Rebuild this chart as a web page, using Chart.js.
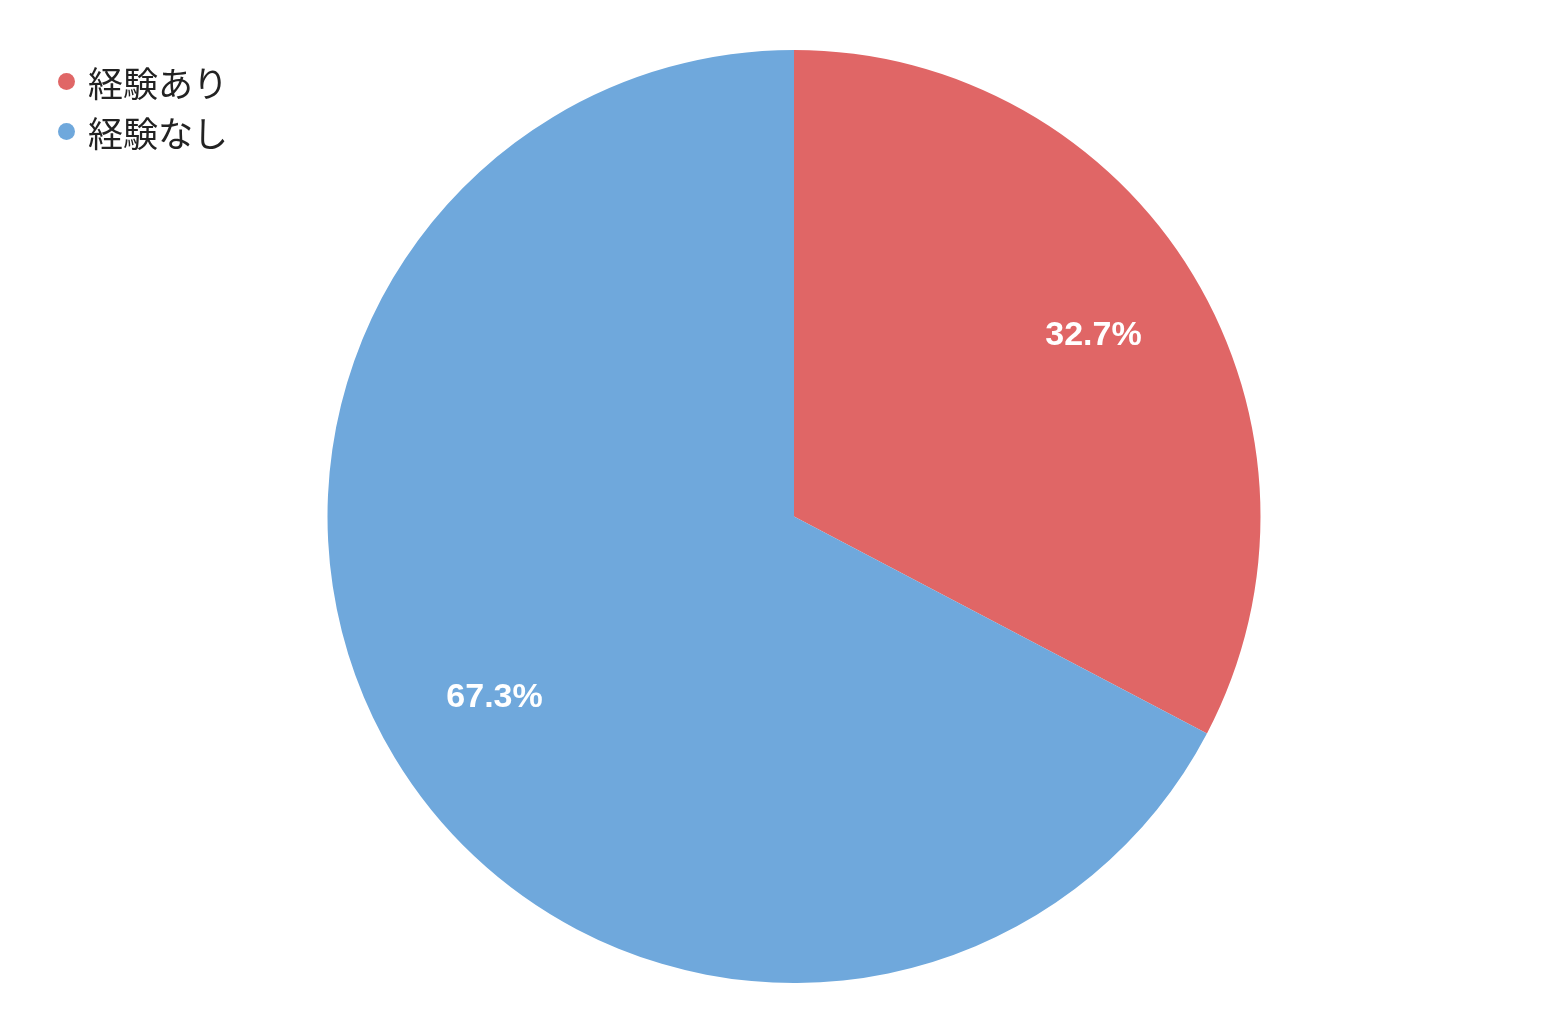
<!DOCTYPE html>
<html>
<head>
<meta charset="utf-8">
<script src="https://cdn.jsdelivr.net/npm/chart.js@4"></script>
<style>
html,body{margin:0;padding:0;background:#fff;}
#wrap{position:relative;width:1544px;height:1029px;}
#legend{position:absolute;left:58px;top:56px;font-family:"Noto Sans CJK JP","Noto Sans",sans-serif;font-size:35px;color:#222;}
.item{display:flex;align-items:center;height:50px;}
.dot{width:17px;height:17px;border-radius:50%;margin-right:13px;}
</style>
</head>
<body>
<div id="wrap">
<canvas id="c" width="1544" height="1029"></canvas>
<div id="legend"></div>
</div>
<script>
const categories = ["経験あり", "経験なし"];
const values = [32.7, 67.3];
const colors = ["#E06666", "#6FA8DC"];

const legend = document.getElementById('legend');
categories.forEach((c, i) => {
  const d = document.createElement('div');
  d.className = 'item';
  d.innerHTML = '<span class="dot" style="background:' + colors[i] + '"></span><span>' + c + '</span>';
  legend.appendChild(d);
});

const labelPlugin = {
  id: 'sliceLabels',
  afterDatasetsDraw(chart) {
    const ctx = chart.ctx;
    const meta = chart.getDatasetMeta(0);
    ctx.save();
    ctx.fillStyle = '#fff';
    ctx.font = 'bold 34px "Liberation Sans", Arial, sans-serif';
    ctx.textAlign = 'center';
    ctx.textBaseline = 'middle';
    meta.data.forEach((arc, i) => {
      const p = arc.getProps(['x','y','startAngle','endAngle','outerRadius'], true);
      const mid = (p.startAngle + p.endAngle) / 2;
      const r = p.outerRadius * 0.75;
      ctx.fillText(values[i].toFixed(1) + '%', p.x + Math.cos(mid) * r, p.y + Math.sin(mid) * r);
    });
    ctx.restore();
  }
};

new Chart(document.getElementById('c'), {
  type: 'pie',
  data: {
    labels: categories,
    datasets: [{
      data: values,
      backgroundColor: colors,
      borderWidth: 0
    }]
  },
  options: {
    responsive: false,
    animation: false,
    layout: { padding: { left: 44, right: 0, top: 50, bottom: 46 } },
    plugins: { legend: { display: false }, tooltip: { enabled: false } }
  },
  plugins: [labelPlugin]
});
</script>
</body>
</html>
